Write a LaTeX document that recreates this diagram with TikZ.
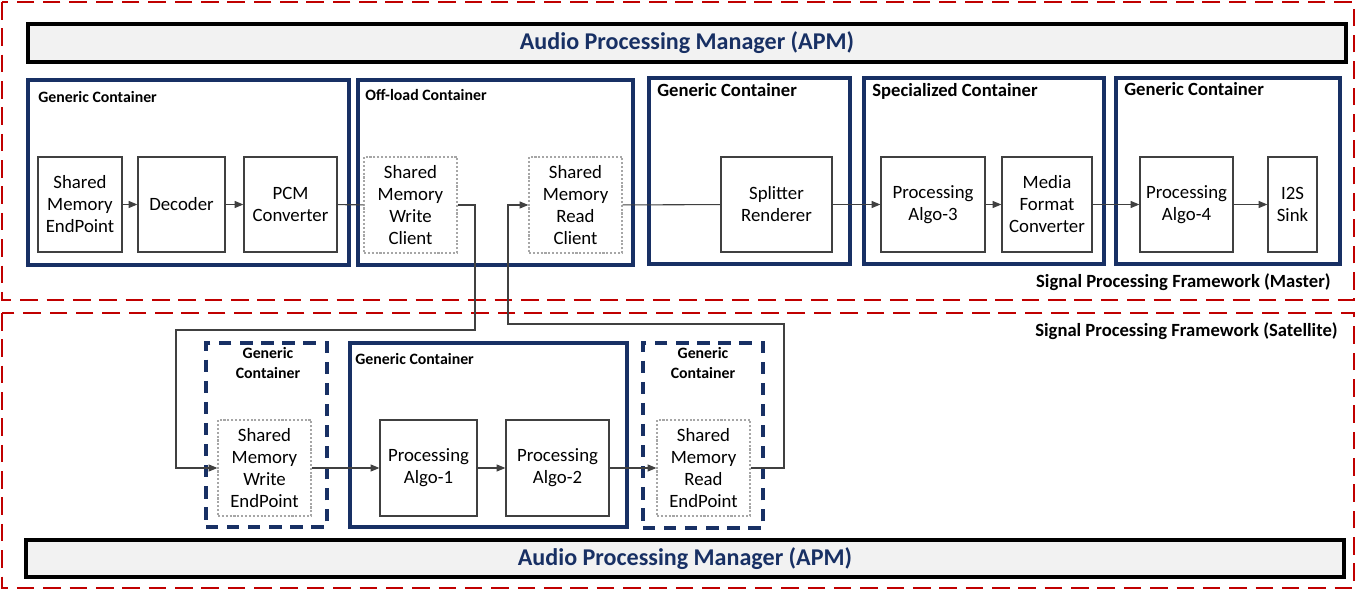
\documentclass[tikz,border=0pt]{standalone}
\usepackage{fontspec}
\setmainfont{Carlito}
\usepackage{xcolor}
\usetikzlibrary{arrows.meta,positioning,calc}
\definecolor{apmnavy}{RGB}{24,48,100}
\definecolor{frmred}{RGB}{192,0,0}
\definecolor{apmgray}{RGB}{242,242,242}

\begin{document}
\begin{tikzpicture}[x=0.02cm, y=-0.02cm]
  \tikzset{
    span/.style n args={4}{at={({(#1+#3)/2},{(#2+#4)/2})},
      minimum width={(#3-#1)*0.02cm}, minimum height={(#4-#2)*0.02cm}},
    frame/.style={draw=frmred, line width=1.2pt, dash pattern=on 10pt off 5pt},
    apmbar/.style={draw=black, line width=1.8pt, fill=apmgray, inner sep=0pt,
      text=apmnavy, font=\bfseries\fontsize{13.7}{15}\selectfont},
    container/.style={draw=apmnavy, line width=1.8pt, inner sep=0pt},
    dashcontainer/.style={container, dash pattern=on 7pt off 5pt},
    block/.style={draw=black!75, line width=0.7pt, inner sep=0pt, align=center,
      font=\fontsize{10.7}{12.5}\selectfont},
    shmblock/.style={block, draw=black!35, dash pattern=on 1.2pt off 1pt},
    ctitle/.style={font=\bfseries\fontsize{9}{11.3}\selectfont, inner sep=0pt, anchor=base west},
    ctitlebig/.style={font=\bfseries\fontsize{10.6}{12}\selectfont, inner sep=0pt, anchor=base west},
    fwtitle/.style={font=\bfseries\fontsize{10.6}{12}\selectfont, inner sep=0pt, anchor=base east},
    link/.style={draw=black!75, line width=0.6pt},
    arr/.style={link, -{Triangle[length=5pt,width=4pt]}}
  }
  \useasboundingbox (0,0) rectangle (1358,590);

  % framework frames
  \draw[frame] (2,2) rectangle (1354,300);
  \draw[frame] (2,313) rectangle (1354,588);
  \node[fwtitle] (fwmaster) at (1331,288) {Signal Processing Framework (Master)};
  \node[fwtitle] (fwsat) at (1338,337) {Signal Processing Framework (Satellite)};

  % APM bars
  \node[apmbar, span={28}{24}{1346}{62}] (apmtop) {Audio Processing Manager (APM)};
  \node[apmbar, span={26}{540}{1344}{577}] (apmbot) {Audio Processing Manager (APM)};

  % master containers
  \node[container, span={28}{80}{349}{265}] (gcA) {};
  \node[ctitle] at (38,103) {Generic Container};
  \node[container, span={358}{80}{633}{265}] (offload) {};
  \node[ctitle] at (365,101) {Off-load Container};
  \node[container, span={649}{78}{850}{264}] (gcB) {};
  \node[ctitlebig] at (657,96.5) {Generic Container};
  \node[container, span={864}{78}{1104}{264}] (spec) {};
  \node[ctitlebig] at (872,97) {Specialized Container};
  \node[container, span={1116}{78}{1340}{264}] (gcC) {};
  \node[ctitlebig] at (1124,96) {Generic Container};

  % master blocks
  \node[block, span={38}{157}{122}{252}] (smep) {Shared\\Memory\\EndPoint};
  \node[block, span={138}{157}{225}{252}] (dec) {Decoder};
  \node[block, span={244}{157}{337}{252}] (pcm) {PCM\\Converter};
  \node[shmblock, span={364}{157}{457}{253}] (smwc) {Shared\\Memory\\Write\\Client};
  \node[shmblock, span={529}{157}{622}{253}] (smrc) {Shared\\Memory\\Read\\Client};
  \node[block, span={721}{157}{832}{252}] (split) {Splitter\\Renderer};
  \node[block, span={881}{157}{985}{252}] (algoC) {Processing\\Algo-3};
  \node[block, span={1002}{157}{1092}{252}] (mfc) {Media\\Format\\Converter};
  \node[block, span={1140}{157}{1233}{252}] (algoD) {Processing\\Algo-4};
  \node[block, span={1268}{157}{1317}{252}] (sink) {I2S\\Sink};

  % satellite containers
  \node[dashcontainer, span={206}{343}{327}{527}] (gcS1) {};
  \node[ctitle, anchor=north, align=center] at (268,347) {Generic\\Container};
  \node[container, span={350}{343}{627}{527}] (gcS2) {};
  \node[ctitle] at (355,365) {Generic Container};
  \node[dashcontainer, span={643}{343}{763}{528}] (gcS3) {};
  \node[ctitle, anchor=north, align=center] at (703,347) {Generic\\Container};

  % satellite blocks
  \node[shmblock, span={218}{420}{311}{516}] (smwe) {Shared\\Memory\\Write\\EndPoint};
  \node[block, span={380}{420}{477}{516}] (algoA) {Processing\\Algo-1};
  \node[block, span={506}{420}{609}{516}] (algoB) {Processing\\Algo-2};
  \node[shmblock, span={657}{420}{750}{516}] (smre) {Shared\\Memory\\Read\\EndPoint};

  % routing points
  \coordinate (wdrop) at (475,330);
  \coordinate (wleft) at (176,330);
  \coordinate (rdrop) at (784,324);
  \coordinate (rleft) at (508,324);

  % master chain
  \draw[arr] (smep) -- (dec);
  \draw[arr] (dec) -- (pcm);
  \draw[link] (pcm) -- (smwc);
  \draw[link] (smrc) -- (split);
  \draw[arr] (split) -- (algoC);
  \draw[arr] (algoC) -- (mfc);
  \draw[arr] (mfc) -- (algoD);
  \draw[arr] (algoD) -- (sink);

  % master <-> satellite
  \draw[arr] (smwc.east) -| (wdrop) -- (wleft) |- (smwe.west);
  \draw[arr] (smre.east) -| (rdrop) -- (rleft) |- (smrc.west);

  % satellite chain
  \draw[arr] (smwe) -- (algoA);
  \draw[arr] (algoA) -- (algoB);
  \draw[arr] (algoB) -- (smre);
\end{tikzpicture}
\end{document}
